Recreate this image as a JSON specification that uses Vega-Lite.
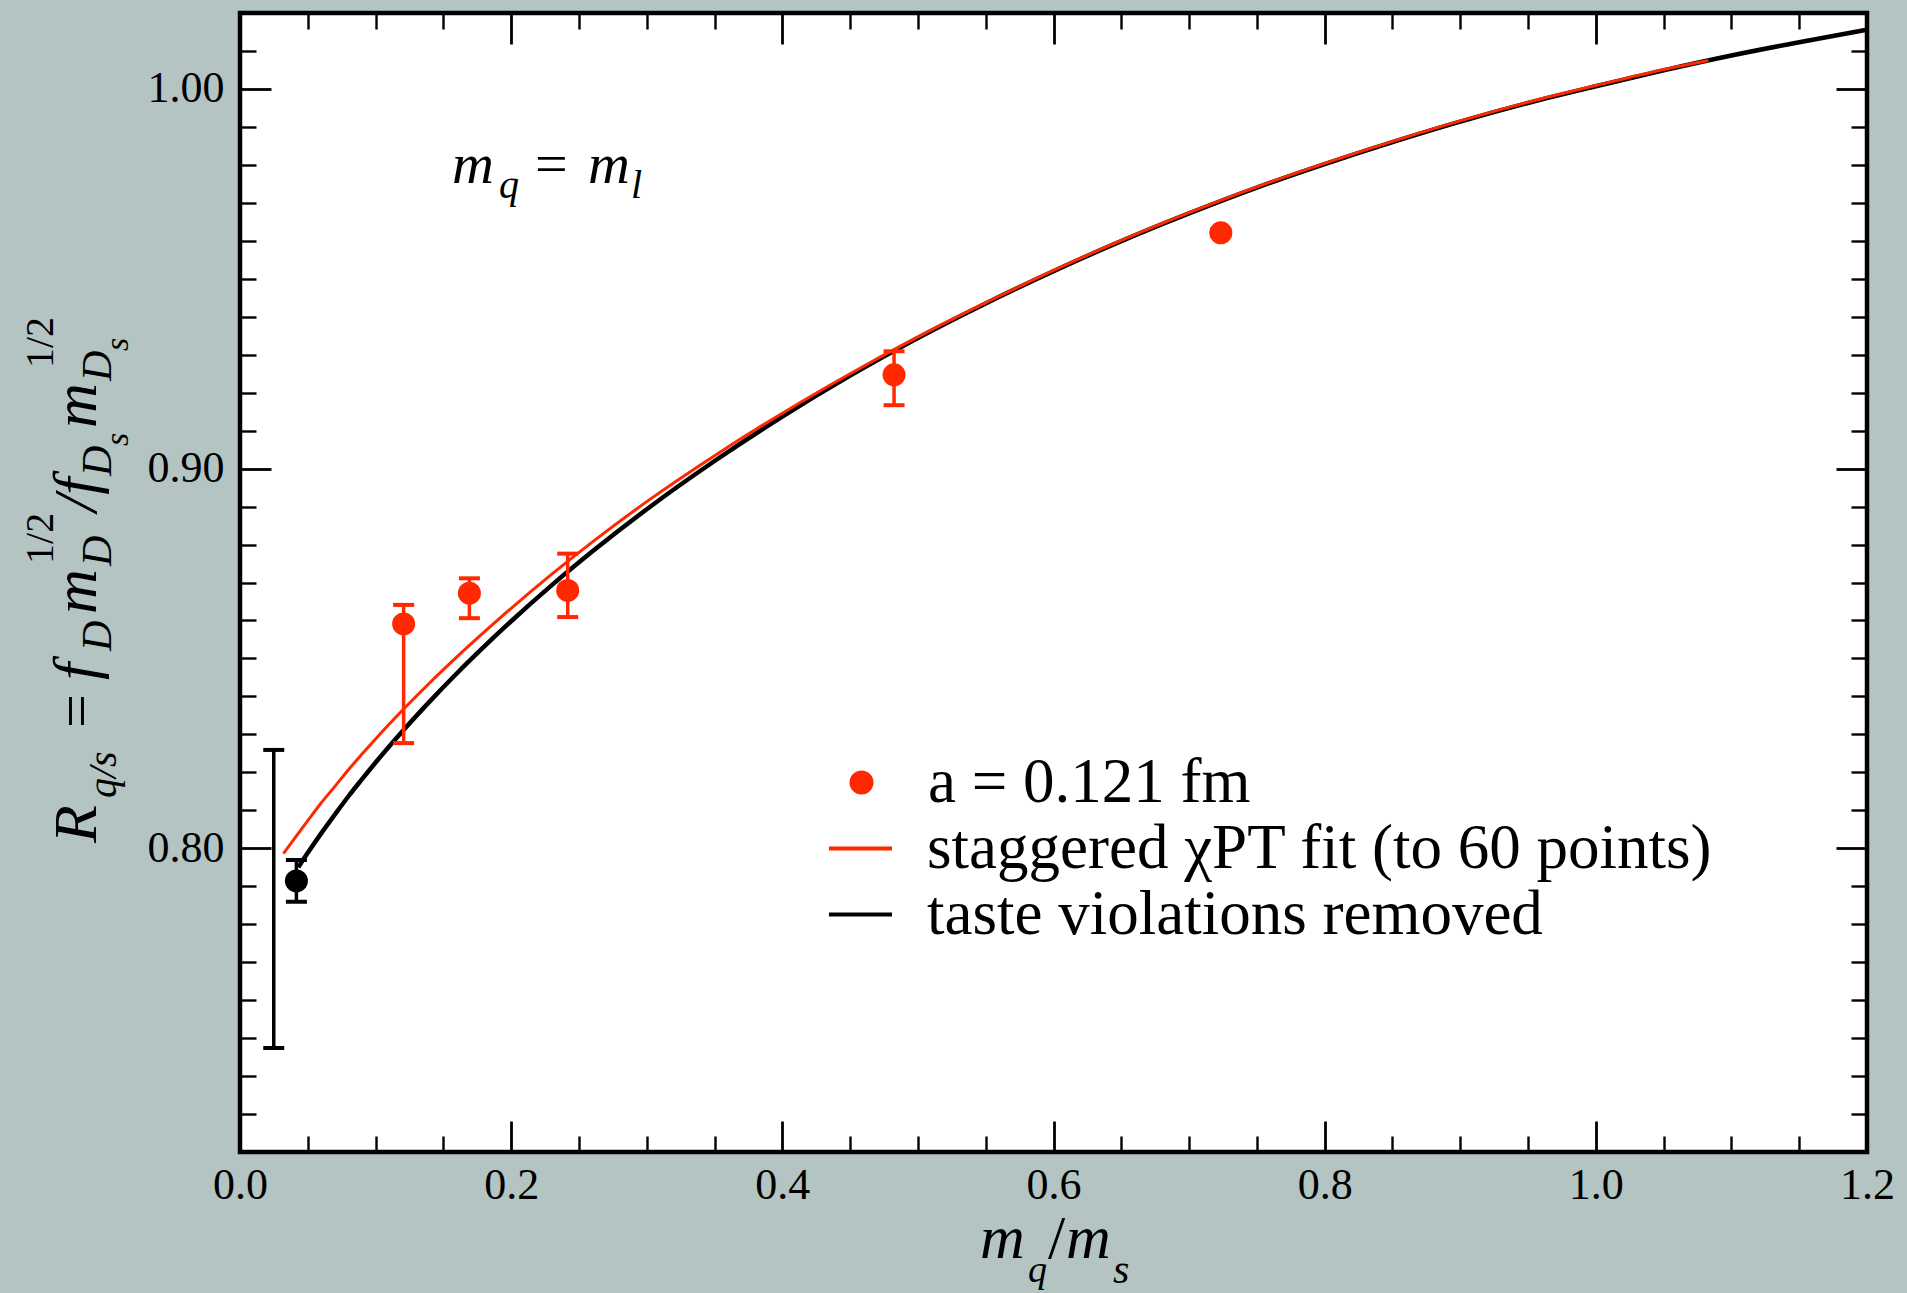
{
  "$schema": "https://vega.github.io/schema/vega-lite/v6.json",
  "width": 1627,
  "height": 1139,
  "autosize": {"type": "none"},
  "padding": {"left": 240, "top": 13, "right": 40, "bottom": 141},
  "background": "#b4c4c3",
  "config": {
    "view": {"stroke": "black", "strokeWidth": 4.5, "fill": "white"}
  },
  "datasets": {
    "one": [{}],
    "black_curve": [
      {"x": 0.043, "y": 0.7950, "series": "taste violations removed"},
      {"x": 0.05, "y": 0.7988, "series": "taste violations removed"},
      {"x": 0.06, "y": 0.8040, "series": "taste violations removed"},
      {"x": 0.07, "y": 0.8089, "series": "taste violations removed"},
      {"x": 0.08, "y": 0.8137, "series": "taste violations removed"},
      {"x": 0.09, "y": 0.8182, "series": "taste violations removed"},
      {"x": 0.10, "y": 0.8226, "series": "taste violations removed"},
      {"x": 0.12, "y": 0.8309, "series": "taste violations removed"},
      {"x": 0.14, "y": 0.8387, "series": "taste violations removed"},
      {"x": 0.16, "y": 0.8461, "series": "taste violations removed"},
      {"x": 0.18, "y": 0.8531, "series": "taste violations removed"},
      {"x": 0.20, "y": 0.8598, "series": "taste violations removed"},
      {"x": 0.23, "y": 0.8693, "series": "taste violations removed"},
      {"x": 0.26, "y": 0.8782, "series": "taste violations removed"},
      {"x": 0.30, "y": 0.8893, "series": "taste violations removed"},
      {"x": 0.35, "y": 0.9020, "series": "taste violations removed"},
      {"x": 0.40, "y": 0.9137, "series": "taste violations removed"},
      {"x": 0.45, "y": 0.9245, "series": "taste violations removed"},
      {"x": 0.50, "y": 0.9344, "series": "taste violations removed"},
      {"x": 0.55, "y": 0.9435, "series": "taste violations removed"},
      {"x": 0.60, "y": 0.9520, "series": "taste violations removed"},
      {"x": 0.65, "y": 0.9599, "series": "taste violations removed"},
      {"x": 0.70, "y": 0.9672, "series": "taste violations removed"},
      {"x": 0.75, "y": 0.9740, "series": "taste violations removed"},
      {"x": 0.80, "y": 0.9802, "series": "taste violations removed"},
      {"x": 0.85, "y": 0.9860, "series": "taste violations removed"},
      {"x": 0.90, "y": 0.9914, "series": "taste violations removed"},
      {"x": 0.95, "y": 0.9963, "series": "taste violations removed"},
      {"x": 1.00, "y": 1.0007, "series": "taste violations removed"},
      {"x": 1.05, "y": 1.0049, "series": "taste violations removed"},
      {"x": 1.10, "y": 1.0088, "series": "taste violations removed"},
      {"x": 1.15, "y": 1.0123, "series": "taste violations removed"},
      {"x": 1.20, "y": 1.0156, "series": "taste violations removed"}
    ],
    "red_curve": [
      {"x": 0.032, "y": 0.7986, "series": "staggered χPT fit (to 60 points)"},
      {"x": 0.04, "y": 0.8025, "series": "staggered χPT fit (to 60 points)"},
      {"x": 0.05, "y": 0.8073, "series": "staggered χPT fit (to 60 points)"},
      {"x": 0.06, "y": 0.8120, "series": "staggered χPT fit (to 60 points)"},
      {"x": 0.07, "y": 0.8163, "series": "staggered χPT fit (to 60 points)"},
      {"x": 0.08, "y": 0.8207, "series": "staggered χPT fit (to 60 points)"},
      {"x": 0.09, "y": 0.8248, "series": "staggered χPT fit (to 60 points)"},
      {"x": 0.10, "y": 0.8288, "series": "staggered χPT fit (to 60 points)"},
      {"x": 0.12, "y": 0.8364, "series": "staggered χPT fit (to 60 points)"},
      {"x": 0.14, "y": 0.8436, "series": "staggered χPT fit (to 60 points)"},
      {"x": 0.16, "y": 0.8504, "series": "staggered χPT fit (to 60 points)"},
      {"x": 0.18, "y": 0.8569, "series": "staggered χPT fit (to 60 points)"},
      {"x": 0.20, "y": 0.8632, "series": "staggered χPT fit (to 60 points)"},
      {"x": 0.23, "y": 0.8722, "series": "staggered χPT fit (to 60 points)"},
      {"x": 0.26, "y": 0.8807, "series": "staggered χPT fit (to 60 points)"},
      {"x": 0.30, "y": 0.8913, "series": "staggered χPT fit (to 60 points)"},
      {"x": 0.35, "y": 0.9034, "series": "staggered χPT fit (to 60 points)"},
      {"x": 0.40, "y": 0.9146, "series": "staggered χPT fit (to 60 points)"},
      {"x": 0.45, "y": 0.9250, "series": "staggered χPT fit (to 60 points)"},
      {"x": 0.50, "y": 0.9347, "series": "staggered χPT fit (to 60 points)"},
      {"x": 0.55, "y": 0.9437, "series": "staggered χPT fit (to 60 points)"},
      {"x": 0.60, "y": 0.9522, "series": "staggered χPT fit (to 60 points)"},
      {"x": 0.65, "y": 0.9601, "series": "staggered χPT fit (to 60 points)"},
      {"x": 0.70, "y": 0.9674, "series": "staggered χPT fit (to 60 points)"},
      {"x": 0.75, "y": 0.9742, "series": "staggered χPT fit (to 60 points)"},
      {"x": 0.80, "y": 0.9804, "series": "staggered χPT fit (to 60 points)"},
      {"x": 0.85, "y": 0.9862, "series": "staggered χPT fit (to 60 points)"},
      {"x": 0.90, "y": 0.9916, "series": "staggered χPT fit (to 60 points)"},
      {"x": 0.95, "y": 0.9965, "series": "staggered χPT fit (to 60 points)"},
      {"x": 1.00, "y": 1.0009, "series": "staggered χPT fit (to 60 points)"},
      {"x": 1.05, "y": 1.0051, "series": "staggered χPT fit (to 60 points)"},
      {"x": 1.083, "y": 1.0075, "series": "staggered χPT fit (to 60 points)"}
    ],
    "red_points": [
      {"x": 0.1207, "y": 0.8591, "lo": 0.8277, "hi": 0.8641, "series": "a = 0.121 fm"},
      {"x": 0.1692, "y": 0.8672, "lo": 0.8606, "hi": 0.8711, "series": "a = 0.121 fm"},
      {"x": 0.2417, "y": 0.8679, "lo": 0.8609, "hi": 0.8776, "series": "a = 0.121 fm"},
      {"x": 0.4824, "y": 0.9247, "lo": 0.9167, "hi": 0.9309, "series": "a = 0.121 fm"},
      {"x": 0.7234, "y": 0.9621, "lo": 0.9612, "hi": 0.9630, "series": "a = 0.121 fm"}
    ],
    "black_point": [
      {"x": 0.0416, "y": 0.7914}
    ],
    "black_errors": [
      {"x": 0.0249, "lo": 0.7474, "hi": 0.8259},
      {"x": 0.0416, "lo": 0.7859, "hi": 0.7969}
    ]
  },
  "resolve": {"axis": {"x": "independent", "y": "independent"}},
  "layer": [
    {
      "data": {"name": "black_curve"},
      "mark": {"type": "line", "strokeWidth": 4.5, "interpolate": "monotone"},
      "encoding": {
        "x": {"field": "x", "type": "quantitative", "scale": {"domain": [0, 1.2], "nice": false, "zero": false},
          "axis": {"orient": "bottom", "values": [0, 0.2, 0.4, 0.6, 0.8, 1.0, 1.2], "format": ".1f", "ticks": false, "domain": false, "grid": false, "title": null, "labelFont": "Liberation Serif", "labelFontSize": 44, "labelColor": "black", "labelPadding": 11, "labelFlush": false, "labelOverlap": false}},
        "y": {"field": "y", "type": "quantitative", "scale": {"domain": [0.72, 1.02], "nice": false, "zero": false},
          "axis": {"orient": "left", "values": [0.8, 0.9, 1.0], "format": ".2f", "ticks": false, "domain": false, "grid": false, "title": null, "labelFont": "Liberation Serif", "labelFontSize": 44, "labelColor": "black", "labelPadding": 16, "labelFlush": false, "labelOverlap": false}},
        "stroke": {"field": "series", "type": "nominal",
          "scale": {"domain": ["staggered χPT fit (to 60 points)", "taste violations removed"], "range": ["#ff2800", "#000000"]},
          "legend": {
            "orient": "none", "legendX": 587, "legendY": 802, "title": null, "padding": 0,
            "labelFont": "Liberation Serif", "labelFontSize": 63, "labelColor": "black", "labelLimit": 2000, "labelOffset": 33, "rowPadding": 0,
            "symbolType": "stroke", "symbolSize": 3969, "symbolStrokeWidth": 4
          }
        }
      }
    },
    {
      "data": {"name": "red_curve"},
      "mark": {"type": "line", "strokeWidth": 3, "interpolate": "monotone"},
      "encoding": {
        "x": {"field": "x", "type": "quantitative",
          "axis": {"orient": "bottom", "values": [0.2, 0.4, 0.6, 0.8, 1.0], "labels": false, "domain": false, "grid": false, "title": null, "ticks": true, "tickSize": -31, "tickWidth": 2.8, "tickColor": "black"}},
        "y": {"field": "y", "type": "quantitative",
          "axis": {"orient": "left", "values": [0.8, 0.9, 1.0], "labels": false, "domain": false, "grid": false, "title": null, "ticks": true, "tickSize": -31, "tickWidth": 2.8, "tickColor": "black"}},
        "stroke": {"field": "series", "type": "nominal"}
      }
    },
    {
      "data": {"name": "black_point"},
      "mark": {"type": "circle", "size": 529, "color": "black", "opacity": 1},
      "encoding": {
        "x": {"field": "x", "type": "quantitative",
          "axis": {"orient": "bottom", "values": [0.05, 0.1, 0.15, 0.25, 0.3, 0.35, 0.45, 0.5, 0.55, 0.65, 0.7, 0.75, 0.85, 0.9, 0.95, 1.05, 1.1, 1.15], "labels": false, "domain": false, "grid": false, "title": null, "ticks": true, "tickSize": -16, "tickWidth": 2.4, "tickColor": "black"}},
        "y": {"field": "y", "type": "quantitative",
          "axis": {"orient": "left", "values": [0.73, 0.74, 0.75, 0.76, 0.77, 0.78, 0.79, 0.81, 0.82, 0.83, 0.84, 0.85, 0.86, 0.87, 0.88, 0.89, 0.91, 0.92, 0.93, 0.94, 0.95, 0.96, 0.97, 0.98, 0.99, 1.01], "labels": false, "domain": false, "grid": false, "title": null, "ticks": true, "tickSize": -16, "tickWidth": 2.4, "tickColor": "black"}}
      }
    },
    {
      "data": {"name": "red_points"},
      "mark": {"type": "circle", "size": 529, "opacity": 1},
      "encoding": {
        "x": {"field": "x", "type": "quantitative",
          "axis": {"orient": "top", "values": [0.2, 0.4, 0.6, 0.8, 1.0], "labels": false, "domain": false, "grid": false, "title": null, "ticks": true, "tickSize": -31, "tickWidth": 2.8, "tickColor": "black"}},
        "y": {"field": "y", "type": "quantitative",
          "axis": {"orient": "right", "values": [0.8, 0.9, 1.0], "labels": false, "domain": false, "grid": false, "title": null, "ticks": true, "tickSize": -31, "tickWidth": 2.8, "tickColor": "black"}},
        "fill": {"field": "series", "type": "nominal",
          "scale": {"domain": ["a = 0.121 fm"], "range": ["#ff2800"]},
          "legend": {
            "orient": "none", "legendX": 590, "legendY": 738, "title": null, "padding": 0,
            "labelFont": "Liberation Serif", "labelFontSize": 63, "labelColor": "black", "labelLimit": 2000, "labelOffset": 35,
            "symbolType": "circle", "symbolSize": 576, "symbolOpacity": 1
          }
        }
      }
    },
    {
      "data": {"name": "one"},
      "mark": {"type": "text", "text": "R", "font": "Liberation Serif", "fontStyle": "italic", "fontSize": 62, "angle": 270, "align": "left", "baseline": "alphabetic", "color": "black"},
      "encoding": {
        "x": {"datum": -0.10621, "type": "quantitative",
          "axis": {"orient": "top", "values": [0.05, 0.1, 0.15, 0.25, 0.3, 0.35, 0.45, 0.5, 0.55, 0.65, 0.7, 0.75, 0.85, 0.9, 0.95, 1.05, 1.1, 1.15], "labels": false, "domain": false, "grid": false, "title": null, "ticks": true, "tickSize": -16, "tickWidth": 2.4, "tickColor": "black"}},
        "y": {"datum": 0.80139, "type": "quantitative",
          "axis": {"orient": "right", "values": [0.73, 0.74, 0.75, 0.76, 0.77, 0.78, 0.79, 0.81, 0.82, 0.83, 0.84, 0.85, 0.86, 0.87, 0.88, 0.89, 0.91, 0.92, 0.93, 0.94, 0.95, 0.96, 0.97, 0.98, 0.99, 1.01], "labels": false, "domain": false, "grid": false, "title": null, "ticks": true, "tickSize": -16, "tickWidth": 2.4, "tickColor": "black"}}
      }
    },
    {
      "data": {"name": "red_points"},
      "mark": {"type": "errorbar", "thickness": 3.5, "opacity": 1, "ticks": {"size": 21, "thickness": 4, "opacity": 1}, "rule": {"strokeWidth": 3.5, "opacity": 1}},
      "encoding": {
        "x": {"field": "x", "type": "quantitative", "axis": null},
        "y": {"field": "lo", "type": "quantitative", "axis": null},
        "y2": {"field": "hi"},
        "color": {"value": "#ff2800"}
      }
    },
    {
      "data": {"name": "black_errors"},
      "mark": {"type": "errorbar", "thickness": 3.5, "opacity": 1, "ticks": {"size": 21, "thickness": 4, "opacity": 1}, "rule": {"strokeWidth": 3.5, "opacity": 1}},
      "encoding": {
        "x": {"field": "x", "type": "quantitative", "axis": null},
        "y": {"field": "lo", "type": "quantitative", "axis": null},
        "y2": {"field": "hi"},
        "color": {"value": "#000000"}
      }
    },
    {"data": {"name": "one"}, "mark": {"type": "text", "text": "q/s", "font": "Liberation Serif", "fontStyle": "italic", "fontSize": 40, "angle": 270, "align": "left", "baseline": "alphabetic", "color": "black"},
     "encoding": {"x": {"datum": -0.09146, "type": "quantitative", "axis": null}, "y": {"datum": 0.81324, "type": "quantitative", "axis": null}}},
    {"data": {"name": "one"}, "mark": {"type": "text", "text": "=", "font": "Liberation Serif", "fontSize": 60, "angle": 270, "align": "left", "baseline": "alphabetic", "color": "black"},
     "encoding": {"x": {"datum": -0.10621, "type": "quantitative", "axis": null}, "y": {"datum": 0.83168, "type": "quantitative", "axis": null}}},
    {"data": {"name": "one"}, "mark": {"type": "text", "text": "f", "font": "Liberation Serif", "fontStyle": "italic", "fontSize": 62, "angle": 270, "align": "left", "baseline": "alphabetic", "color": "black"},
     "encoding": {"x": {"datum": -0.10621, "type": "quantitative", "axis": null}, "y": {"datum": 0.84432, "type": "quantitative", "axis": null}}},
    {"data": {"name": "one"}, "mark": {"type": "text", "text": "D", "font": "Liberation Serif", "fontStyle": "italic", "fontSize": 42, "angle": 270, "align": "left", "baseline": "alphabetic", "color": "black"},
     "encoding": {"x": {"datum": -0.09515, "type": "quantitative", "axis": null}, "y": {"datum": 0.85196, "type": "quantitative", "axis": null}}},
    {"data": {"name": "one"}, "mark": {"type": "text", "text": "m", "font": "Liberation Serif", "fontStyle": "italic", "fontSize": 62, "angle": 270, "align": "left", "baseline": "alphabetic", "color": "black"},
     "encoding": {"x": {"datum": -0.10621, "type": "quantitative", "axis": null}, "y": {"datum": 0.86170, "type": "quantitative", "axis": null}}},
    {"data": {"name": "one"}, "mark": {"type": "text", "text": "D", "font": "Liberation Serif", "fontStyle": "italic", "fontSize": 42, "angle": 270, "align": "left", "baseline": "alphabetic", "color": "black"},
     "encoding": {"x": {"datum": -0.09515, "type": "quantitative", "axis": null}, "y": {"datum": 0.87435, "type": "quantitative", "axis": null}}},
    {"data": {"name": "one"}, "mark": {"type": "text", "text": "1/2", "font": "Liberation Serif", "fontSize": 40, "angle": 270, "align": "left", "baseline": "alphabetic", "color": "black"},
     "encoding": {"x": {"datum": -0.13793, "type": "quantitative", "axis": null}, "y": {"datum": 0.87488, "type": "quantitative", "axis": null}}},
    {"data": {"name": "one"}, "mark": {"type": "text", "text": "/f", "font": "Liberation Serif", "fontStyle": "italic", "fontSize": 62, "angle": 270, "align": "left", "baseline": "alphabetic", "color": "black"},
     "encoding": {"x": {"datum": -0.10621, "type": "quantitative", "axis": null}, "y": {"datum": 0.88857, "type": "quantitative", "axis": null}}},
    {"data": {"name": "one"}, "mark": {"type": "text", "text": "D", "font": "Liberation Serif", "fontStyle": "italic", "fontSize": 42, "angle": 270, "align": "left", "baseline": "alphabetic", "color": "black"},
     "encoding": {"x": {"datum": -0.09515, "type": "quantitative", "axis": null}, "y": {"datum": 0.89805, "type": "quantitative", "axis": null}}},
    {"data": {"name": "one"}, "mark": {"type": "text", "text": "s", "font": "Liberation Serif", "fontStyle": "italic", "fontSize": 34, "angle": 270, "align": "left", "baseline": "alphabetic", "color": "black"},
     "encoding": {"x": {"datum": -0.08261, "type": "quantitative", "axis": null}, "y": {"datum": 0.90595, "type": "quantitative", "axis": null}}},
    {"data": {"name": "one"}, "mark": {"type": "text", "text": "m", "font": "Liberation Serif", "fontStyle": "italic", "fontSize": 62, "angle": 270, "align": "left", "baseline": "alphabetic", "color": "black"},
     "encoding": {"x": {"datum": -0.10621, "type": "quantitative", "axis": null}, "y": {"datum": 0.91069, "type": "quantitative", "axis": null}}},
    {"data": {"name": "one"}, "mark": {"type": "text", "text": "D", "font": "Liberation Serif", "fontStyle": "italic", "fontSize": 42, "angle": 270, "align": "left", "baseline": "alphabetic", "color": "black"},
     "encoding": {"x": {"datum": -0.09515, "type": "quantitative", "axis": null}, "y": {"datum": 0.92307, "type": "quantitative", "axis": null}}},
    {"data": {"name": "one"}, "mark": {"type": "text", "text": "s", "font": "Liberation Serif", "fontStyle": "italic", "fontSize": 34, "angle": 270, "align": "left", "baseline": "alphabetic", "color": "black"},
     "encoding": {"x": {"datum": -0.08261, "type": "quantitative", "axis": null}, "y": {"datum": 0.93098, "type": "quantitative", "axis": null}}},
    {"data": {"name": "one"}, "mark": {"type": "text", "text": "1/2", "font": "Liberation Serif", "fontSize": 40, "angle": 270, "align": "left", "baseline": "alphabetic", "color": "black"},
     "encoding": {"x": {"datum": -0.13793, "type": "quantitative", "axis": null}, "y": {"datum": 0.92650, "type": "quantitative", "axis": null}}},
    {"data": {"name": "one"}, "mark": {"type": "text", "text": "m", "font": "Liberation Serif", "fontStyle": "italic", "fontSize": 58, "align": "left", "baseline": "alphabetic", "color": "black"},
     "encoding": {"x": {"datum": 0.15636, "type": "quantitative", "axis": null}, "y": {"datum": 0.97522, "type": "quantitative", "axis": null}}},
    {"data": {"name": "one"}, "mark": {"type": "text", "text": "q", "font": "Liberation Serif", "fontStyle": "italic", "fontSize": 40, "align": "left", "baseline": "alphabetic", "color": "black"},
     "encoding": {"x": {"datum": 0.19103, "type": "quantitative", "axis": null}, "y": {"datum": 0.97127, "type": "quantitative", "axis": null}}},
    {"data": {"name": "one"}, "mark": {"type": "text", "text": "=", "font": "Liberation Serif", "fontSize": 58, "align": "left", "baseline": "alphabetic", "color": "black"},
     "encoding": {"x": {"datum": 0.21758, "type": "quantitative", "axis": null}, "y": {"datum": 0.97522, "type": "quantitative", "axis": null}}},
    {"data": {"name": "one"}, "mark": {"type": "text", "text": "m", "font": "Liberation Serif", "fontStyle": "italic", "fontSize": 58, "align": "left", "baseline": "alphabetic", "color": "black"},
     "encoding": {"x": {"datum": 0.25667, "type": "quantitative", "axis": null}, "y": {"datum": 0.97522, "type": "quantitative", "axis": null}}},
    {"data": {"name": "one"}, "mark": {"type": "text", "text": "l", "font": "Liberation Serif", "fontStyle": "italic", "fontSize": 40, "align": "left", "baseline": "alphabetic", "color": "black"},
     "encoding": {"x": {"datum": 0.28839, "type": "quantitative", "axis": null}, "y": {"datum": 0.97127, "type": "quantitative", "axis": null}}},
    {"data": {"name": "one"}, "mark": {"type": "text", "text": "m", "font": "Liberation Serif", "fontStyle": "italic", "fontSize": 62, "align": "left", "baseline": "alphabetic", "color": "black"},
     "encoding": {"x": {"datum": 0.54580, "type": "quantitative", "axis": null}, "y": {"datum": 0.69208, "type": "quantitative", "axis": null}}},
    {"data": {"name": "one"}, "mark": {"type": "text", "text": "q", "font": "Liberation Serif", "fontStyle": "italic", "fontSize": 38, "align": "left", "baseline": "alphabetic", "color": "black"},
     "encoding": {"x": {"datum": 0.58121, "type": "quantitative", "axis": null}, "y": {"datum": 0.68576, "type": "quantitative", "axis": null}}},
    {"data": {"name": "one"}, "mark": {"type": "text", "text": "/", "font": "Liberation Serif", "fontSize": 62, "align": "left", "baseline": "alphabetic", "color": "black"},
     "encoding": {"x": {"datum": 0.59596, "type": "quantitative", "axis": null}, "y": {"datum": 0.69208, "type": "quantitative", "axis": null}}},
    {"data": {"name": "one"}, "mark": {"type": "text", "text": "m", "font": "Liberation Serif", "fontStyle": "italic", "fontSize": 62, "align": "left", "baseline": "alphabetic", "color": "black"},
     "encoding": {"x": {"datum": 0.60924, "type": "quantitative", "axis": null}, "y": {"datum": 0.69208, "type": "quantitative", "axis": null}}},
    {"data": {"name": "one"}, "mark": {"type": "text", "text": "s", "font": "Liberation Serif", "fontStyle": "italic", "fontSize": 42, "align": "left", "baseline": "alphabetic", "color": "black"},
     "encoding": {"x": {"datum": 0.64390, "type": "quantitative", "axis": null}, "y": {"datum": 0.68549, "type": "quantitative", "axis": null}}}
  ]
}
